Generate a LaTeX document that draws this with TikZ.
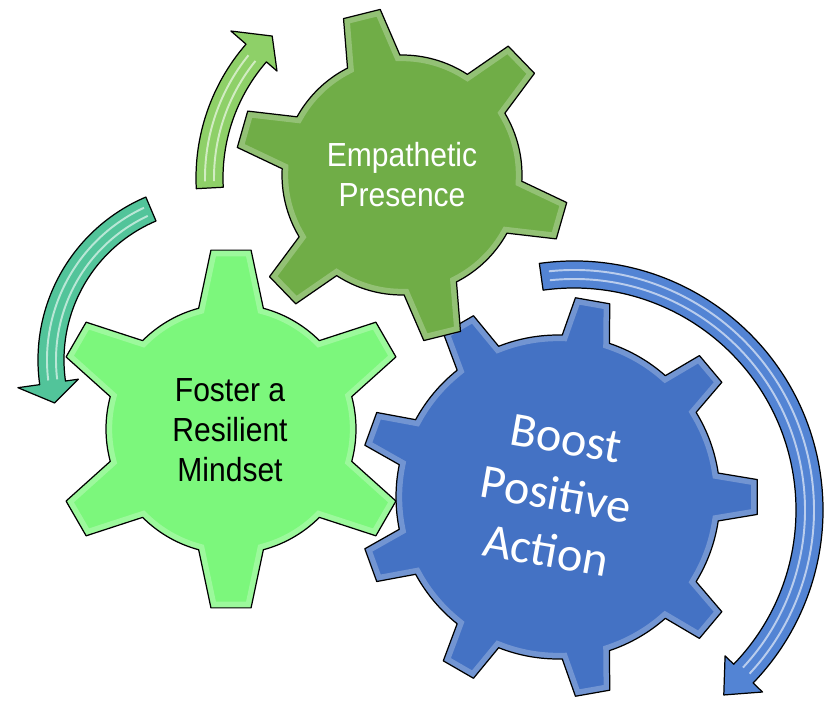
\documentclass[tikz,border=0pt]{standalone}
\usepackage{fontspec}
\setmainfont{Liberation Sans}
\newfontfamily\narrowsans[FakeStretch=0.9]{Liberation Sans}
\newfontfamily\calibri{Carlito}

\definecolor{gearblue}{HTML}{4472C4}
\definecolor{gearolive}{HTML}{70AD47}
\definecolor{gearlight}{HTML}{7CF77C}
\definecolor{arrowblue}{HTML}{5384D4}
\definecolor{arrowteal}{HTML}{52C49A}
\definecolor{arrowlime}{HTML}{8ED068}

% teeth, offset, body radius, tip radius, base half-angle, tip half-angle
\newcommand{\gearshape}[6]{(#2+360/#1-#5:#3)
  \foreach \k [evaluate=\k as \ang using #2+\k*360/#1] in {1,...,#1}{
    -- (\ang-#6:#4) -- (\ang+#6:#4) -- (\ang+#5:#3)
    arc[start angle=\ang+#5, delta angle=360/#1-2*#5, radius=#3]
  } -- cycle}

\tikzset{
  geartext/.style={font=\narrowsans\fontsize{19}{22.7}\selectfont, align=center},
  bandarrow/.style={draw=black, line width=0.7pt, line join=round},
  shine/.style={white, opacity=0.6, line width=1.1pt},
  rim/.style={white, opacity=0.25, line width=7pt}
}

\begin{document}
\begin{tikzpicture}[x=0.02cm, y=0.02cm]
  \useasboundingbox (0,0) rectangle (824,700);
  \clip (0,0) rectangle (824,700);

  % x/y/teeth/offset/body r/tip r/base half/tip half/colour
  \foreach \gx/\gy/\n/\off/\rb/\rt/\bh/\th/\col in {558/203/9/0/162/200/8.5/5/gearblue,
      231/271/6/30/125/180/15/6.4/gearlight, 402/525/6/44/120/167/13/6.5/gearolive} {
    \begin{scope}[shift={(\gx,\gy)}]
      \fill[\col] \gearshape{\n}{\off}{\rb}{\rt}{\bh}{\th};
      \begin{scope}
        \clip \gearshape{\n}{\off}{\rb}{\rt}{\bh}{\th};
        \draw[rim] \gearshape{\n}{\off}{\rb}{\rt}{\bh}{\th};
      \end{scope}
      \draw[line width=0.7pt, line join=round] \gearshape{\n}{\off}{\rb}{\rt}{\bh}{\th};
    \end{scope}
  }

  % arrows
  \begin{scope}[shift={(400,522)}]
    \filldraw[bandarrow, fill=arrowlime] (183:204) arc[start angle=183, end angle=139, radius=204]
      -- (139:224) -- (132:191) -- (139:163) -- (139:177)
      arc[start angle=139, end angle=183, radius=177] -- cycle;
    \foreach \r in {186,195} {
      \draw[shine] (181:\r) arc[start angle=181, end angle=141, radius=\r];
    }
  \end{scope}

  \begin{scope}[shift={(215,340)}]
    \filldraw[bandarrow, fill=arrowteal] (113:177) arc[start angle=113, end angle=188, radius=177]
      -- (188:199) -- (195:166) -- (188:138) -- (188:151)
      arc[start angle=188, end angle=113, radius=151] -- cycle;
    \foreach \r in {159,168} {
      \draw[shine] (115:\r) arc[start angle=115, end angle=187, radius=\r];
    }
  \end{scope}

  \begin{scope}[shift={(574,190)}]
    \filldraw[bandarrow, fill=arrowblue] (98:249) arc[start angle=98, end angle=-44, radius=249]
      -- (-44:262) -- (-51:238) -- (-44:210) -- (-44:222)
      arc[start angle=-44, end angle=98, radius=222] -- cycle;
    \foreach \r in {231,240} {
      \draw[shine] (96:\r) arc[start angle=96, end angle=-43, radius=\r];
    }
  \end{scope}

  % labels
  \node[geartext, text=black] (foster) at (230,270) {Foster a\\Resilient\\Mindset};
  \node[geartext, text=white] (empathy) at (402,525) {Empathetic\\Presence};
  \node[text=white, font=\calibri\fontsize{27.5}{32.5}\selectfont, align=center, rotate=-10]
    (boost) at (556,205) {Boost\\Positive\\Action};
\end{tikzpicture}
\end{document}
